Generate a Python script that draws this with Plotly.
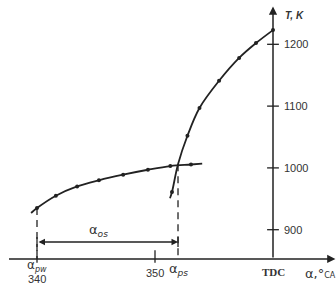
import plotly.graph_objects as go

# ---- data ----
# slow-rising curve (line path) and its measured points
low_x = [339.5, 340.0, 341.6, 343.4, 345.25, 347.3, 349.4, 351.3, 353.05, 354.0]
low_y = [927, 935, 955, 970, 980, 989, 997, 1003, 1005.5, 1007]
low_pts_x = [340.0, 341.6, 343.4, 345.25, 347.3, 349.4, 351.3, 353.05]
low_pts_y = [935, 955, 970, 980, 989, 997, 1003, 1005.5]

# steep curve (line path) and its measured points
steep_x = [351.27, 351.44, 351.95, 352.75, 353.77, 355.43, 357.13, 358.56, 360.0]
steep_y = [951, 961, 1006, 1052, 1097, 1141, 1178, 1202, 1223]
steep_pts_x = [351.44, 352.75, 353.77, 355.43, 357.13, 358.56, 360.0]
steep_pts_y = [961, 1052, 1097, 1141, 1178, 1202, 1223]

y_ticks = [900, 1000, 1100, 1200]
x_ticks = [340, 350]
x_tick_labels = ["340", "350"]
tdc = 360
alpha_pw = 340.0
alpha_ps = 351.95
alpha_ps_T = 1006

# ---- layout constants ----
X_RANGE = [336.864, 365.339]
Y_RANGE = [808.9, 1271.7]
AXIS_Y = 852.6          # level where the horizontal axis is drawn
DIM_Y = 880.1           # level of the dimension line
LINE = "#222222"
TXT = "#333333"

fig = go.Figure()
fig.add_trace(go.Scatter(x=low_x, y=low_y, mode="lines", line=dict(color=LINE, width=1.8, shape="spline"),
                         hoverinfo="skip"))
fig.add_trace(go.Scatter(x=low_pts_x, y=low_pts_y, mode="markers", marker=dict(color=LINE, size=4),
                         hoverinfo="skip"))
fig.add_trace(go.Scatter(x=steep_x, y=steep_y, mode="lines", line=dict(color=LINE, width=1.8, shape="spline"),
                         hoverinfo="skip"))
fig.add_trace(go.Scatter(x=steep_pts_x, y=steep_pts_y, mode="markers", marker=dict(color=LINE, size=4),
                         hoverinfo="skip"))

shapes = []
# dashed verticals
shapes.append(dict(type="line", x0=alpha_pw, x1=alpha_pw, y0=low_pts_y[0], y1=AXIS_Y,
                   line=dict(color=LINE, width=1.3, dash="7px,5px")))
shapes.append(dict(type="line", x0=alpha_ps, x1=alpha_ps, y0=alpha_ps_T, y1=AXIS_Y,
                   line=dict(color=LINE, width=1.3, dash="7px,5px")))
# dimension end ticks
for xv in (alpha_pw, alpha_ps):
    shapes.append(dict(type="line", x0=xv, x1=xv, y0=DIM_Y - 8, y1=DIM_Y + 8, line=dict(color=LINE, width=1.3)))
# x ticks
for xv in x_ticks:
    shapes.append(dict(type="line", x0=xv, x1=xv, y0=AXIS_Y - 6, y1=AXIS_Y + 14, line=dict(color=LINE, width=1.3)))
# y ticks
for yv in y_ticks:
    shapes.append(dict(type="line", x0=tdc - 0.5, x1=tdc + 0.5, y0=yv, y1=yv, line=dict(color=LINE, width=1.3)))

ann = []
# axes with arrows
ann.append(dict(x=X_RANGE[1] - 0.05, y=AXIS_Y, ax=337.5, ay=AXIS_Y, xref="x", yref="y", axref="x", ayref="y",
                text="", showarrow=True, arrowhead=2, arrowsize=1.1, arrowwidth=1.5, arrowcolor=LINE))
ann.append(dict(x=tdc, y=1261, ax=tdc, ay=AXIS_Y, xref="x", yref="y", axref="x", ayref="y",
                text="", showarrow=True, arrowhead=2, arrowsize=1.1, arrowwidth=1.5, arrowcolor=LINE))
# dimension line
ann.append(dict(x=alpha_ps, y=DIM_Y, ax=alpha_pw, ay=DIM_Y, xref="x", yref="y", axref="x", ayref="y",
                text="", showarrow=True, arrowhead=2, arrowside="end+start", arrowsize=1, arrowwidth=1.3,
                arrowcolor=LINE))

base = dict(showarrow=False, xref="x", yref="y", font=dict(family="Liberation Sans", size=11, color=TXT))
for yv in y_ticks:
    ann.append(dict(base, x=tdc, y=yv, text=str(yv), xanchor="left", yanchor="middle", xshift=9))
ann.append(dict(base, x=tdc, y=1247, text="<b><i>T, K</i></b>", xanchor="left", yanchor="middle", xshift=10,
                font=dict(family="Liberation Sans", size=10, color=TXT)))
for xv, lab in zip(x_ticks, x_tick_labels):
    if xv == 340:
        ann.append(dict(base, x=xv, y=Y_RANGE[0], text=lab, xanchor="center", yanchor="bottom", yshift=-1))
    else:
        ann.append(dict(base, x=xv, y=AXIS_Y, text=lab, xanchor="center", yanchor="top", yshift=-6))
greek = dict(family="DejaVu Sans", size=13, color=TXT)
ann.append(dict(base, x=alpha_pw, y=AXIS_Y, text="α<sub><i><span style='font-size:8px'>pw</span></i></sub>",
                xanchor="center", yanchor="top", yshift=3, font=dict(family="DejaVu Sans", size=12, color=TXT)))
ann.append(dict(base, x=alpha_ps, y=AXIS_Y, text="α<sub><i>ps</i></sub>", xanchor="center", yanchor="top",
                yshift=0, font=greek))
ann.append(dict(base, x=(alpha_pw + alpha_ps) / 2 - 0.8, y=DIM_Y, text="α<sub><i>os</i></sub>", xanchor="center",
                yanchor="bottom", yshift=1, font=greek))
ann.append(dict(base, x=tdc, y=AXIS_Y, text="<b>TDC</b>", xanchor="center", yanchor="top", yshift=-5,
                font=dict(family="Liberation Serif", size=11, color=TXT)))
ann.append(dict(base, x=362.55, y=AXIS_Y, text="α,°<span style='font-size:8px'>CA</span>", xanchor="left",
                yanchor="top", yshift=-5, font=greek))

fig.update_layout(
    width=336, height=286, margin=dict(l=0, r=0, t=0, b=0),
    paper_bgcolor="white", plot_bgcolor="white", showlegend=False,
    xaxis=dict(range=X_RANGE, visible=False, fixedrange=True),
    yaxis=dict(range=Y_RANGE, visible=False, fixedrange=True),
    shapes=shapes, annotations=ann,
)
fig.write_html("out.html")
